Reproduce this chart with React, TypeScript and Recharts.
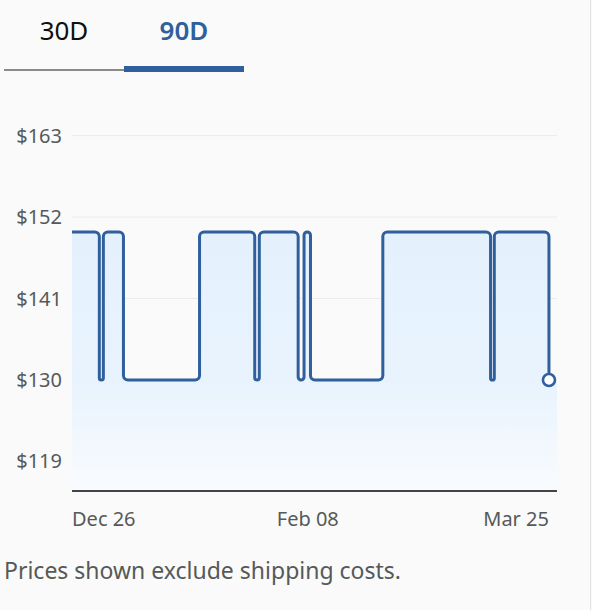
import React from "react"
import { ComposedChart, Area, Line, XAxis, YAxis, CartesianGrid } from "recharts"

// days counted from Dec 26, price in effect from that day on
const changeDays = [0, 5.1, 5.85, 9.6, 23.8, 34.1, 34.95, 42.2, 43.3, 44.5, 58.0, 78.1, 78.8, 89.0]
const prices = [149.99, 129.99, 149.99, 129.99, 149.99, 129.99, 149.99, 129.99, 149.99, 129.99, 149.99, 129.99, 149.99, 129.99]
const fillEndDay = 90.5

const xTickDays = [0, 44, 89]
const xTickLabels = ["Dec 26", "Feb 08", "Mar 25"]
const yTicks = [119, 130, 141, 152, 163]
const yDomain = [115, 167]

const tabs = ["30D", "90D"]

const data: { day: number; price: number | null; fill: number }[] = changeDays.map((d, i) => ({
  day: d,
  price: prices[i],
  fill: prices[i],
}))
data.push({ day: fillEndDay, price: null, fill: prices[prices.length - 1] })

const lastIndex = changeDays.length - 1

const BLUE = "#2f5f9c"
const GRAY = "#565959"
const FONT = "'Noto Sans', sans-serif"
const CORNER = 4.5

// step-after curve with rounded corners (d3 curve interface)
const roundedStep = (context: any) => {
  let pts: [number, number][] = []
  let mode = NaN
  return {
    areaStart() {
      mode = 0
    },
    areaEnd() {
      mode = NaN
    },
    lineStart() {
      pts = []
    },
    point(x: number, y: number) {
      pts.push([+x, +y])
    },
    lineEnd() {
      const v: [number, number][] = []
      const push = (p: [number, number]) => {
        const l = v[v.length - 1]
        if (!l || Math.abs(l[0] - p[0]) > 1e-6 || Math.abs(l[1] - p[1]) > 1e-6) v.push(p)
      }
      pts.forEach((p, i) => {
        if (i > 0) push([p[0], pts[i - 1][1]])
        push(p)
      })
      if (!v.length) return
      if (mode === 1) context.lineTo(v[0][0], v[0][1])
      else context.moveTo(v[0][0], v[0][1])
      for (let i = 1; i < v.length - 1; i++) {
        const a = v[i - 1]
        const b = v[i]
        const c = v[i + 1]
        const r = Math.min(
          CORNER,
          Math.hypot(b[0] - a[0], b[1] - a[1]) / 2,
          Math.hypot(c[0] - b[0], c[1] - b[1]) / 2
        )
        context.arcTo(b[0], b[1], c[0], c[1], r)
      }
      if (v.length > 1) context.lineTo(v[v.length - 1][0], v[v.length - 1][1])
      if (mode === 1) context.closePath()
      if (mode >= 0) mode = 1 - mode
    },
  }
}

const XTick = ({ x, y, payload, index }: any) => {
  const anchor = index === 0 ? "start" : index === xTickDays.length - 1 ? "end" : "middle"
  const i = xTickDays.indexOf(payload.value)
  return (
    <text x={x} y={y + 27} textAnchor={anchor} fill={GRAY} fontSize={20} fontFamily={FONT}>
      {xTickLabels[i]}
    </text>
  )
}

const LastDot = (props: any) => {
  const { cx, cy, index } = props
  if (index !== lastIndex || cx == null || cy == null) return <g key={`d-${index}`} />
  return <circle key={`d-${index}`} cx={cx} cy={cy} r={6} fill="#fff" stroke={BLUE} strokeWidth={2.6} />
}

export default function App() {
  return (
    <div
      style={{
        position: "fixed",
        left: 0,
        top: 0,
        width: 592,
        height: 610,
        background: "#fafafa",
        fontFamily: FONT,
        overflow: "hidden",
      }}
    >
      {tabs.map((t, i) => (
        <div
          key={t}
          style={{
            position: "absolute",
            left: 4 + i * 120,
            top: 13,
            width: 120,
            textAlign: "center",
            fontSize: 26,
            lineHeight: "34px",
            fontWeight: i === 1 ? 600 : 400,
            color: i === 1 ? BLUE : "#0f1111",
          }}
        >
          {t}
        </div>
      ))}
      <div style={{ position: "absolute", left: 4, top: 69, width: 120, height: 2, background: "#8a8a8a" }} />
      <div style={{ position: "absolute", left: 124, top: 66, width: 120, height: 6, background: BLUE }} />
      <div style={{ position: "absolute", left: 590, top: 0, width: 1, height: 610, background: "#e3e3e3" }} />

      <div style={{ position: "absolute", left: 0, top: 0 }}>
        <ComposedChart width={592} height={560} data={data} margin={{ top: 106, right: 35, bottom: 29, left: 0 }}>
          <defs>
            <linearGradient id="priceFill" x1="0" y1="0" x2="0" y2="1">
              <stop offset="0%" stopColor="#e4f1fd" />
              <stop offset="57%" stopColor="#e8f3fd" />
              <stop offset="100%" stopColor="#f9fbfe" />
            </linearGradient>
          </defs>
          <CartesianGrid vertical={false} horizontalValues={yTicks} stroke="#ebebeb" strokeWidth={1} />
          <XAxis
            dataKey="day"
            type="number"
            domain={[0, fillEndDay]}
            ticks={xTickDays}
            tick={<XTick />}
            tickLine={false}
            axisLine={{ stroke: "#444", strokeWidth: 2 }}
            height={40}
            interval={0}
          />
          <YAxis
            type="number"
            domain={yDomain}
            ticks={yTicks}
            tickFormatter={(v) => `$${v}`}
            tick={{ fill: GRAY, fontSize: 20, fontFamily: FONT }}
            tickLine={false}
            axisLine={false}
            tickMargin={4}
            width={72}
            allowDataOverflow
          />
          <Area
            dataKey="fill"
            type={roundedStep as any}
            stroke="none"
            fill="url(#priceFill)"
            fillOpacity={1}
            isAnimationActive={false}
            dot={false}
            activeDot={false}
          />
          <Line
            dataKey="price"
            type={roundedStep as any}
            stroke={BLUE}
            strokeWidth={3}
            dot={LastDot}
            activeDot={false}
            isAnimationActive={false}
          />
        </ComposedChart>
      </div>

      <div
        style={{
          position: "absolute",
          left: 4,
          top: 555,
          fontSize: 23,
          lineHeight: "30px",
          color: GRAY,
        }}
      >
        Prices shown exclude shipping costs.
      </div>
    </div>
  )
}
